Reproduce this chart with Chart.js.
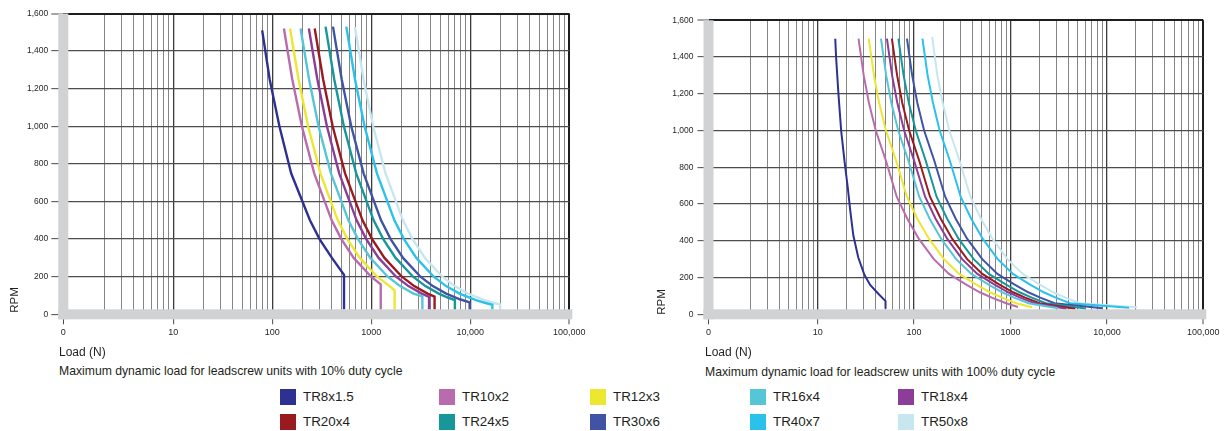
<!DOCTYPE html>
<html>
<head>
<meta charset="utf-8">
<script src="https://cdn.jsdelivr.net/npm/chart.js@4.4.1/dist/chart.umd.min.js"></script>
<style>
  html, body { margin: 0; padding: 0; background: #fff; }
  body { width: 1231px; height: 431px; position: relative; overflow: hidden;
         font-family: "Liberation Sans", Arial, Helvetica, sans-serif; color: #231f20; }
  canvas { position: absolute; top: 0; }
  #leftChart { left: 0; }
  #rightChart { left: 620px; }
  .txt { position: absolute; white-space: nowrap; line-height: 1; }
  .rpm { font-size: 11.5px; transform: translate(-50%, -50%) rotate(-90deg); }
  .load { font-size: 12px; }
  .cap { font-size: 12.2px; }
  .sw { position: absolute; width: 15.5px; height: 15.5px; }
  .lg { position: absolute; font-size: 13.4px; line-height: 1; white-space: nowrap; }
</style>
</head>
<body>
<canvas id="leftChart" width="620" height="345"></canvas>
<canvas id="rightChart" width="611" height="345"></canvas>

<div class="txt rpm" style="left:15px; top:300px;">RPM</div>
<div class="txt rpm" style="left:662px; top:302px;">RPM</div>
<div class="txt load" style="left:59px; top:345.5px;">Load (N)</div>
<div class="txt load" style="left:705px; top:346px;">Load (N)</div>
<div class="txt cap" style="left:59px; top:364.5px;">Maximum dynamic load for leadscrew units with 10% duty cycle</div>
<div class="txt cap" style="left:705px; top:366px;">Maximum dynamic load for leadscrew units with 100% duty cycle</div>
<div id="legend"></div>

<script>
// ---- data ----
const seriesNames = ['TR8x1.5', 'TR10x2', 'TR12x3', 'TR16x4', 'TR18x4',
                     'TR20x4', 'TR24x5', 'TR30x6', 'TR40x7', 'TR50x8'];
const yTicks = [0, 200, 400, 600, 800, 1000, 1200, 1400, 1600];
const xTickLabels = ['0', '10', '100', '1000', '10,000', '100,000'];

// 10% duty cycle, points are [load N, rpm]
const d10_TR8x1_5 = [[79,1510],[94,1250],[118,1000],[155,750],[240,500],[300,400],[400,300],[530,210],[530,25]];
const d10_TR10x2  = [[131,1520],[159,1250],[199,1000],[265,750],[398,500],[498,400],[664,300],[996,200],[1245,160],[1245,25]];
const d10_TR12x3  = [[151,1520],[184,1250],[230,1000],[306,750],[459,500],[574,400],[765,300],[1148,200],[1530,150],[1720,128],[1720,25]];
const d10_TR16x4  = [[193,1520],[235,1250],[293,1000],[391,750],[587,500],[734,400],[978,300],[1467,200],[1956,150],[2667,110],[3280,95],[3280,25]];
const d10_TR18x4  = [[234,1520],[285,1250],[356,1000],[474,750],[711,500],[889,400],[1186,300],[1779,200],[2371,150],[3234,110],[3830,93],[3830,25]];
const d10_TR20x4  = [[268,1520],[326,1250],[407,1000],[543,750],[815,500],[1019,400],[1358,300],[2037,200],[2716,150],[3704,110],[4356,94],[4356,25]];
const d10_TR24x5  = [[345,1530],[422,1250],[528,1000],[704,750],[1056,500],[1320,400],[1760,300],[2640,200],[3519,150],[4799,110],[6000,88],[6984,76],[6984,25]];
const d10_TR30x6  = [[410,1530],[502,1250],[627,1000],[836,750],[1255,500],[1568,400],[2091,300],[3137,200],[4182,150],[5703,110],[7841,80],[9850,64],[9850,25]];
const d10_TR40x7  = [[559,1530],[684,1250],[855,1000],[1140,750],[1711,500],[2138,400],[2851,300],[4277,200],[5702,150],[7775,110],[11404,75],[14255,60],[16700,51],[16700,25]];
const d10_TR50x8  = [[684,1527],[835,1250],[1044,1000],[1392,750],[2088,500],[2610,400],[3480,300],[5220,200],[6960,150],[9491,110],[13920,75],[17400,60],[20000,52],[20000,25]];

// 100% duty cycle, points are [load N, rpm]
const d100_TR8x1_5 = [[15.2,1500],[15.5,1400],[16.4,1200],[17.5,1000],[19,830],[20.5,690],[21.8,560],[23.4,430],[26.3,310],[30.5,215],[35,160],[42.5,112],[50.5,72],[50.5,30]];
const d100_TR10x2  = [[26.5,1500],[30,1300],[34,1150],[40,1000],[51,836],[66,640],[85,520],[112,410],[160,300],[230,220],[340,164],[480,120],[640,91],[900,60],[1195,40]];
const d100_TR12x3  = [[33.8,1500],[38.3,1300],[43.4,1150],[51,1000],[65.1,836],[84.2,640],[108,520],[143,410],[204,300],[293,220],[434,164],[612,120],[817,91],[1148,60],[1670,38]];
const d100_TR16x4  = [[45.3,1500],[51.3,1300],[58.1,1150],[68.4,1000],[87.2,836],[113,640],[145,520],[191,410],[273,300],[393,220],[581,164],[820,120],[1094,91],[1538,60],[3100,33]];
const d100_TR18x4  = [[52.2,1500],[59.1,1300],[67,1150],[78.8,1000],[100,836],[130,640],[167,520],[221,410],[315,300],[453,220],[670,164],[946,120],[1261,91],[1773,60],[3800,30]];
const d100_TR20x4  = [[58.8,1500],[66.6,1300],[75.4,1150],[88.8,1000],[113,836],[146,640],[189,520],[249,410],[355,300],[510,220],[754,164],[1065,120],[1420,91],[1997,60],[4700,30]];
const d100_TR24x5  = [[68.7,1500],[77.8,1300],[88.1,1150],[104,1000],[132,836],[171,640],[220,520],[290,410],[415,300],[596,220],[881,164],[1244,120],[1659,91],[2333,60],[6000,32]];
const d100_TR30x6  = [[84.3,1500],[95.4,1300],[108,1150],[127,1000],[162,836],[210,640],[270,520],[356,410],[509,300],[732,220],[1082,164],[1527,120],[2036,91],[2863,60],[9000,33]];
const d100_TR40x7  = [[122,1500],[138,1300],[157,1150],[184,1000],[235,836],[304,640],[391,520],[516,410],[737,300],[1059,220],[1565,164],[2210,120],[2946,91],[4144,60],[17000,36]];
const d100_TR50x8  = [[154,1510],[174,1300],[198,1150],[232,1000],[296,836],[384,640],[494,520],[651,410],[930,300],[1337,220],[1976,164],[2789,120],[3719,91],[5230,60],[20500,38]];

const duty10 = [d10_TR8x1_5, d10_TR10x2, d10_TR12x3, d10_TR16x4, d10_TR18x4,
                d10_TR20x4, d10_TR24x5, d10_TR30x6, d10_TR40x7, d10_TR50x8];
const duty100 = [d100_TR8x1_5, d100_TR10x2, d100_TR12x3, d100_TR16x4, d100_TR18x4,
                 d100_TR20x4, d100_TR24x5, d100_TR30x6, d100_TR40x7, d100_TR50x8];

// ---- styles ----
const seriesColors = ['#2e3191', '#b96cad', '#ece730', '#56c5d8', '#8b3d98',
                      '#9a1b1f', '#17979a', '#4054a6', '#2ac2ea', '#c7e7f0'];
const textColor = '#231f20';
const grayBar = '#d1d2d4';

Chart.defaults.font.family = '"Liberation Sans", Arial, Helvetica, sans-serif';
Chart.defaults.color = textColor;

function logTicks(min) {
  const t = [min];
  for (let d = 1; d <= 10000; d *= 10) {
    for (let m = 2; m <= 10; m++) t.push(m * d);
  }
  return t;
}
function isDecade(v) {
  const l = Math.log10(v);
  return v >= 10 && Math.abs(l - Math.round(l)) < 1e-9;
}

// thick grey bars along the left and bottom of the plot
const grayFrame = {
  id: 'grayFrame',
  afterDatasetsDraw(chart) {
    const a = chart.chartArea, ctx = chart.ctx;
    ctx.save();
    ctx.fillStyle = grayBar;
    ctx.fillRect(a.left - 5, a.top, 10, a.bottom - a.top + 5);
    ctx.fillRect(a.left - 5, a.bottom - 5, a.right - a.left + 8, 10);
    ctx.restore();
  }
};

function buildChart(id, series, p) {
  const ctx = document.getElementById(id).getContext('2d');
  return new Chart(ctx, {
    type: 'line',
    data: {
      datasets: series.map((pts, i) => ({
        label: seriesNames[i],
        data: pts.map(q => ({ x: q[0], y: q[1] })),
        borderColor: seriesColors[i],
        backgroundColor: seriesColors[i],
        borderWidth: p.lineWidth,
        pointRadius: 0,
        tension: 0,
        fill: false
      }))
    },
    options: {
      responsive: false,
      animation: false,
      layout: { padding: { top: p.top, right: p.right, left: 0, bottom: 0 } },
      plugins: { legend: { display: false }, tooltip: { enabled: false } },
      scales: {
        x: {
          type: 'logarithmic',
          bounds: 'data',
          min: p.xMin,
          max: 100000,
          afterBuildTicks: s => { s.ticks = logTicks(p.xMin).map(v => ({ value: v })); },
          afterFit: s => { s.height = p.xAxisHeight; },
          ticks: {
            autoSkip: false, maxRotation: 0, minRotation: 0, padding: 3,
            font: { size: 9 }, color: textColor,
            callback: v => v === p.xMin ? xTickLabels[0]
                        : (isDecade(v) ? xTickLabels[Math.round(Math.log10(v))] : '')
          },
          grid: {
            color: c => {
              const v = c.tick ? c.tick.value : 0;
              if (v === p.xMin) return 'rgba(0,0,0,0)';
              if (v === 100000) return '#1e1e1e';
              return isDecade(v) ? '#3c3c3c' : '#858585';
            },
            lineWidth: c => {
              const v = c.tick ? c.tick.value : 0;
              if (v === 100000) return 2;
              return isDecade(v) ? 1.3 : 1;
            },
            tickColor: c => {
              const v = c.tick ? c.tick.value : 0;
              return (v === p.xMin || isDecade(v)) ? '#4a4a4a' : 'rgba(0,0,0,0)';
            },
            tickLength: 10,
            tickWidth: 1
          },
          border: { display: false }
        },
        y: {
          type: 'linear',
          min: 0,
          max: 1600,
          afterBuildTicks: s => { s.ticks = yTicks.map(v => ({ value: v })); },
          afterFit: s => { s.width = p.yAxisWidth; },
          ticks: {
            padding: p.yPad, font: { size: 8.5 }, color: textColor,
            callback: v => v.toLocaleString('en-US')
          },
          grid: {
            color: c => {
              const v = c.tick ? c.tick.value : 0;
              if (v === 0) return 'rgba(0,0,0,0)';
              return v === 1600 ? '#1e1e1e' : '#4d4d4d';
            },
            lineWidth: c => (c.tick && c.tick.value === 1600) ? 2 : 1.3,
            tickColor: '#4a4a4a',
            tickLength: p.yTickLen,
            tickWidth: 1
          },
          border: { display: false }
        }
      }
    },
    plugins: [grayFrame]
  });
}

buildChart('leftChart', duty10, {
  xMin: 0.774, top: 13.5, right: 50.7, yAxisWidth: 63.3, xAxisHeight: 30.7,
  yTickLen: 12, yPad: 3, lineWidth: 2.4
});
buildChart('rightChart', duty100, {
  xMin: 0.736, top: 20.3, right: 27.7, yAxisWidth: 88.5, xAxisHeight: 30.7,
  yTickLen: 11, yPad: 4, lineWidth: 2
});

// legend, two rows of five
const legendCols = [280, 439, 590, 750, 898];
const legendRows = [397, 421.8];
const legend = document.getElementById('legend');
seriesNames.forEach((name, i) => {
  const col = legendCols[i % 5], cy = legendRows[Math.floor(i / 5)];
  const sw = document.createElement('div');
  sw.className = 'sw';
  sw.style.left = col + 'px';
  sw.style.top = (cy - 7.75) + 'px';
  sw.style.background = seriesColors[i];
  legend.appendChild(sw);
  const t = document.createElement('div');
  t.className = 'lg';
  t.style.left = (col + 23) + 'px';
  t.style.top = (cy - 6.7) + 'px';
  t.textContent = name;
  legend.appendChild(t);
});
</script>
</body>
</html>
